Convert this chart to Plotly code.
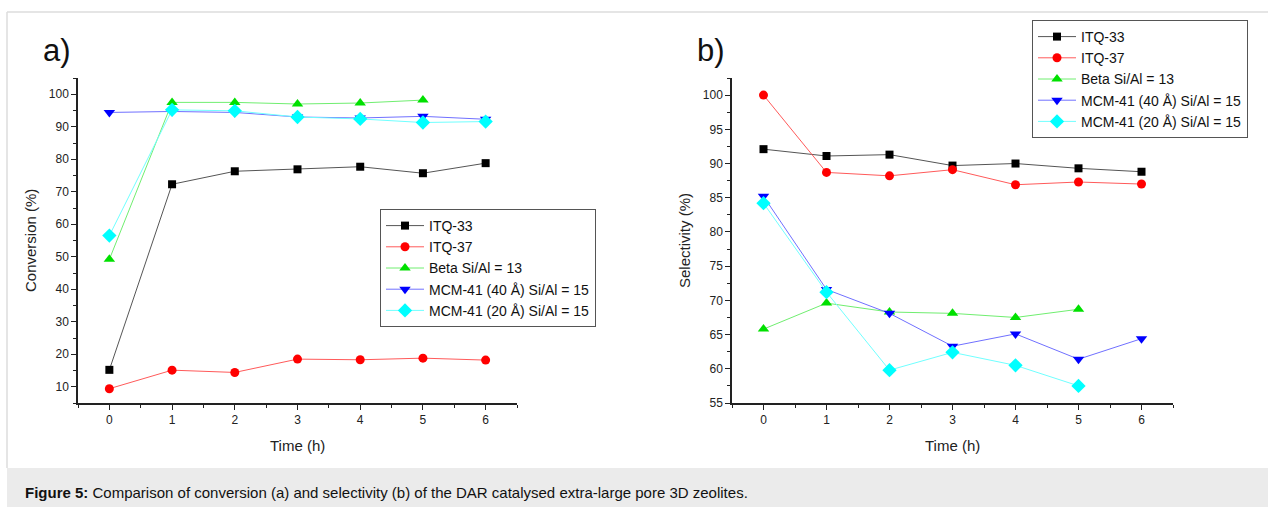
import plotly.graph_objects as go

W, H = 1268, 507          # design (screen) size used for positioning
FIG_H = 514               # figure height handed to plotly

time_h = [0, 1, 2, 3, 4, 5, 6]
series_names = ["ITQ-33", "ITQ-37", "Beta Si/Al = 13",
                "MCM-41 (40 Å) Si/Al = 15", "MCM-41 (20 Å) Si/Al = 15"]

# a) Conversion (%)
conv_itq33 = [15.2, 72.3, 76.3, 76.9, 77.7, 75.7, 78.8]
conv_itq37 = [9.4, 15.1, 14.4, 18.5, 18.3, 18.8, 18.2]
conv_beta = [49.2, 97.5, 97.5, 97.0, 97.3, 98.2]
conv_mcm40 = [94.4, 94.7, 94.4, 93.0, 92.7, 93.2, 92.3]
conv_mcm20 = [56.5, 95.2, 94.9, 93.0, 92.4, 91.3, 91.6]

# b) Selectivity (%)
sel_itq33 = [92.1, 91.1, 91.3, 89.7, 90.0, 89.3, 88.8]
sel_itq37 = [100.0, 88.7, 88.2, 89.1, 86.9, 87.3, 87.0]
sel_beta = [65.8, 69.6, 68.3, 68.1, 67.5, 68.7]
sel_mcm40 = [85.2, 71.6, 68.1, 63.3, 65.1, 61.4, 64.4]
sel_mcm20 = [84.2, 71.2, 59.8, 62.4, 60.5, 57.5]

marker_colors = ["#000000", "#ff0000", "#00e000", "#0000ff", "#00ffff"]
line_colors = ["#555555", "#ff5a5a", "#70ee70", "#7070ff", "#70ffff"]
symbols = ["square", "circle", "triangle-up", "triangle-down", "diamond"]
msizes = [8, 9, 10, 10, 11]

FONT = "Arial, Liberation Sans, sans-serif"

fig = go.Figure()

conv = [conv_itq33, conv_itq37, conv_beta, conv_mcm40, conv_mcm20]
sel = [sel_itq33, sel_itq37, sel_beta, sel_mcm40, sel_mcm20]

for i, ys in enumerate(conv):
    fig.add_trace(go.Scatter(
        x=time_h[:len(ys)], y=ys, name=series_names[i], mode="lines+markers",
        line=dict(color=line_colors[i], width=1),
        marker=dict(color=marker_colors[i], symbol=symbols[i], size=msizes[i]),
        xaxis="x", yaxis="y", legend="legend"))
for i, ys in enumerate(sel):
    fig.add_trace(go.Scatter(
        x=time_h[:len(ys)], y=ys, name=series_names[i], mode="lines+markers",
        line=dict(color=line_colors[i], width=1),
        marker=dict(color=marker_colors[i], symbol=symbols[i], size=msizes[i]),
        xaxis="x2", yaxis="y2", legend="legend2"))

def px_x(p):
    return p / W

def px_y(p):
    return 1 - p / H

ydom = [px_y(403), px_y(78)]

axis_common = dict(
    showline=True, linecolor="#222222", linewidth=1.5, mirror=False,
    ticks="outside", ticklen=5, tickwidth=1.2, tickcolor="#222222",
    showgrid=False, zeroline=False,
    tickfont=dict(family=FONT, size=12, color="#222222"),
)

legend_common = dict(xanchor="left", yanchor="top",
                     bordercolor="#555555", borderwidth=1, bgcolor="white",
                     font=dict(family=FONT, size=14, color="#111111"),
                     tracegroupgap=0, itemwidth=38)

fig.update_layout(
    width=W, height=FIG_H,
    margin=dict(l=0, r=0, t=0, b=0),
    paper_bgcolor="white", plot_bgcolor="white",
    font=dict(family=FONT, color="#222222"),
    xaxis=dict(domain=[px_x(78), px_x(517)], range=[-0.5, 6.5], dtick=1, tick0=0,
               anchor="y",
               minor=dict(ticks="outside", ticklen=3, dtick=0.5, tick0=0.5, tickcolor="#222222"),
               **axis_common),
    yaxis=dict(domain=ydom, range=[5, 105], dtick=10, tick0=0, anchor="x",
               minor=dict(ticks="outside", ticklen=3, dtick=5, tick0=5, tickcolor="#222222"),
               **axis_common),
    xaxis2=dict(domain=[px_x(732), px_x(1173)], range=[-0.5, 6.5], dtick=1, tick0=0,
                anchor="y2",
                minor=dict(ticks="outside", ticklen=3, dtick=0.5, tick0=0.5, tickcolor="#222222"),
                **axis_common),
    yaxis2=dict(domain=ydom, range=[55, 102.5], dtick=5, tick0=0, anchor="x2",
                minor=dict(ticks="outside", ticklen=3, dtick=2.5, tick0=2.5, tickcolor="#222222"),
                **axis_common),
    legend=dict(x=px_x(380), y=px_y(209), **legend_common),
    legend2=dict(x=px_x(1032), y=px_y(20), **legend_common),
    showlegend=True,
)

shapes = [
    dict(type="rect", xref="paper", yref="paper", x0=px_x(7), x1=1, y0=0, y1=px_y(468),
         fillcolor="#ebebeb", line=dict(width=0), layer="below"),
    dict(type="line", xref="paper", yref="paper", x0=px_x(7), x1=1, y0=px_y(12), y1=px_y(12),
         line=dict(color="#dddddd", width=1.5), layer="below"),
    dict(type="line", xref="paper", yref="paper", x0=px_x(7), x1=px_x(7), y0=px_y(12), y1=px_y(468),
         line=dict(color="#dddddd", width=1.5), layer="below"),
]
fig.update_layout(shapes=shapes)

def ann(text, x, y, size, angle=0, xanchor="center", color="#222222"):
    return dict(text=text, x=px_x(x), y=px_y(y), xref="paper", yref="paper",
                xanchor=xanchor, yanchor="middle", showarrow=False, textangle=angle,
                font=dict(family=FONT, size=size, color=color))

annotations = [
    ann("a)", 57, 51, 31, color="#111111"),
    ann("b)", 711, 50, 31, color="#111111"),
    ann("Time (h)", 297, 445, 15),
    ann("Time (h)", 952, 445, 15),
    ann("Conversion (%)", 30, 241, 15, angle=-90),
    ann("Selectivity (%)", 684, 241, 15, angle=-90),
    ann("<b>Figure 5:</b> Comparison of conversion (a) and selectivity (b) of the DAR catalysed extra-large pore 3D zeolites.",
        23, 492, 15, xanchor="left", color="#111111"),
]
fig.update_layout(annotations=annotations)

fig.write_html("out.html")
